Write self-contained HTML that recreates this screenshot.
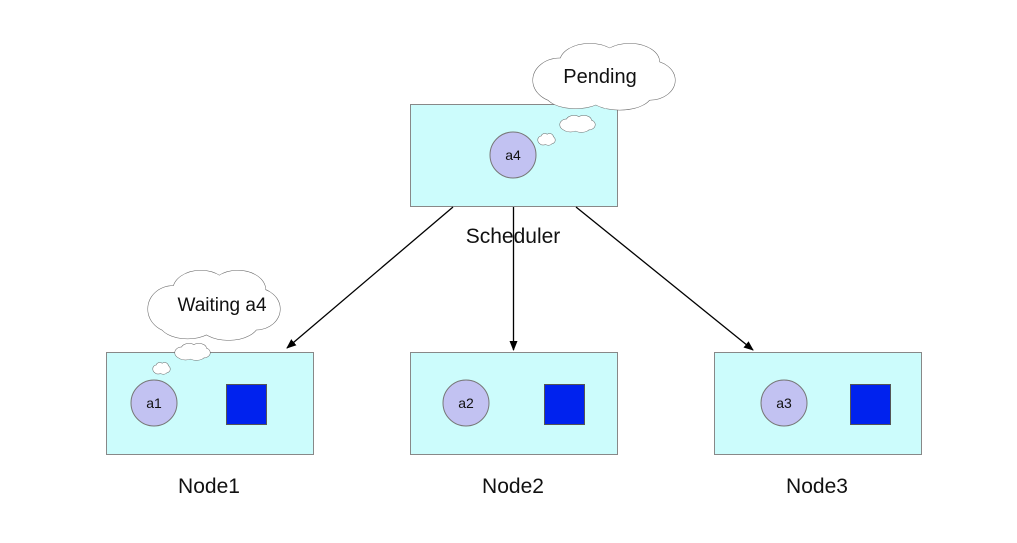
<!DOCTYPE html>
<html><head><meta charset="utf-8"><style>
html,body{margin:0;padding:0;background:#fff;}
svg{display:block;font-family:"Liberation Sans",sans-serif;}
</style></head><body>
<svg width="1017" height="543" viewBox="0 0 1017 543" xmlns="http://www.w3.org/2000/svg">
<defs>
<g id="cs" fill="none" stroke="#666" stroke-width="1">
<ellipse cx="19" cy="25" rx="19" ry="15.6" vector-effect="non-scaling-stroke"/>
<ellipse cx="40" cy="12" rx="21" ry="13" vector-effect="non-scaling-stroke"/>
<ellipse cx="68" cy="12" rx="21" ry="13" vector-effect="non-scaling-stroke"/>
<ellipse cx="82" cy="25" rx="18" ry="14" vector-effect="non-scaling-stroke"/>
<ellipse cx="61" cy="35" rx="22.5" ry="11" vector-effect="non-scaling-stroke"/>
<ellipse cx="30" cy="35" rx="21" ry="10" vector-effect="non-scaling-stroke"/>
</g>
<g id="cf" fill="#fff" stroke="none">
<ellipse cx="19" cy="25" rx="19" ry="15.6"/>
<ellipse cx="40" cy="12" rx="21" ry="13"/>
<ellipse cx="68" cy="12" rx="21" ry="13"/>
<ellipse cx="82" cy="25" rx="18" ry="14"/>
<ellipse cx="61" cy="35" rx="22.5" ry="11"/>
<ellipse cx="30" cy="35" rx="21" ry="10"/>
<rect x="15" y="12" width="70" height="25"/>
</g>
<g id="cl"><use href="#cs"/><use href="#cf"/></g>
<marker id="ar" markerWidth="10" markerHeight="10" refX="9" refY="5" orient="auto" markerUnits="userSpaceOnUse"><path d="M0,1 L10,5 L0,9 Z" fill="#000"/></marker>
</defs>
<g fill="#ccfcfc" stroke="#888" stroke-width="1">
<rect x="410.5" y="104.5" width="207" height="102"/>
<rect x="106.5" y="352.5" width="207" height="102"/>
<rect x="410.5" y="352.5" width="207" height="102"/>
<rect x="714.5" y="352.5" width="207" height="102"/>
</g>
<use href="#cl" transform="translate(533,45) scale(1.42,1.41)"/>
<use href="#cl" transform="translate(560,116) scale(0.35,0.35)"/>
<use href="#cl" transform="translate(538,134) scale(0.17,0.24)"/>
<use href="#cl" transform="translate(148,272) scale(1.32,1.48)"/>
<use href="#cl" transform="translate(175,344) scale(0.35,0.35)"/>
<use href="#cl" transform="translate(153,363) scale(0.17,0.24)"/>
<g fill="#c2c2f2" stroke="#777" stroke-width="1">
<circle cx="513" cy="155" r="23"/>
<circle cx="154" cy="403" r="23"/>
<circle cx="466" cy="403" r="23"/>
<circle cx="784" cy="403" r="23"/>
</g>
<g fill="#0022ee" stroke="#555" stroke-width="1">
<rect x="226.5" y="384.5" width="40" height="40"/>
<rect x="544.5" y="384.5" width="40" height="40"/>
<rect x="850.5" y="384.5" width="40" height="40"/>
</g>
<g stroke="#000" stroke-width="1.3" marker-end="url(#ar)">
<line x1="453" y1="207" x2="287" y2="348"/>
<line x1="513.5" y1="207" x2="513.5" y2="350"/>
<line x1="576" y1="207" x2="753" y2="350"/>
</g>
<g fill="#111" text-anchor="middle">
<text x="513" y="160" font-size="14">a4</text>
<text x="154" y="408" font-size="14">a1</text>
<text x="466" y="408" font-size="14">a2</text>
<text x="784" y="408" font-size="14">a3</text>
<text x="600" y="83" font-size="20">Pending</text>
<text x="222" y="311" font-size="19">Waiting a4</text>
<text x="513" y="243" font-size="21">Scheduler</text>
<text x="209" y="493" font-size="21">Node1</text>
<text x="513" y="493" font-size="21">Node2</text>
<text x="817" y="493" font-size="21">Node3</text>
</g>
</svg>
</body></html>
